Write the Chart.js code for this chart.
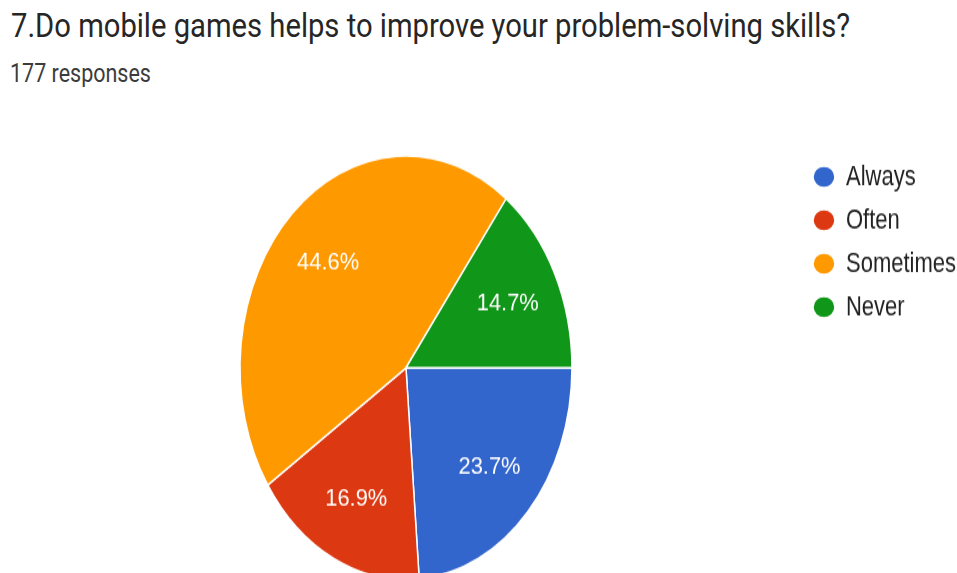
<!DOCTYPE html>
<html>
<head>
<meta charset="utf-8">
<script src="https://cdn.jsdelivr.net/npm/chart.js@4.4.0/dist/chart.umd.min.js"></script>
<style>
  html, body { margin: 0; padding: 0; background: #fff; overflow: hidden; }
  body { width: 957px; height: 573px; position: relative; }
  .title {
    position: absolute; left: 11px; top: 9.7px;
    font: 29.2px/29.2px Roboto, sans-serif; color: #262626; white-space: nowrap;
    transform: scaleY(1.14); transform-origin: 0 0;
  }
  .subtitle {
    position: absolute; left: 10px; top: 60.7px;
    font: 21.5px/21.5px Roboto, sans-serif; color: #3c3c3c; white-space: nowrap;
    transform: scaleY(1.16); transform-origin: 0 0;
  }
  #chartWrap { position: absolute; left: 0; top: 0; width: 957px; height: 470px; transform: scaleY(1.277); transform-origin: 0 0; }
</style>
</head>
<body>
<div class="title">7.Do mobile games helps to improve your problem-solving skills?</div>
<div class="subtitle">177 responses</div>
<div id="chartWrap"><canvas id="pieChart" width="957" height="470"></canvas></div>
<script>
const answers = ["Always", "Often", "Sometimes", "Never"];
const responseCounts = [42, 30, 79, 26];
const sliceColors = ["#3366cc", "#dc3912", "#ff9900", "#109618"];

const totalResponses = responseCounts.reduce((a, b) => a + b, 0);

// percentage text inside each slice
const sliceLabels = {
  id: "sliceLabels",
  afterDatasetsDraw(chart) {
    const { ctx } = chart;
    const meta = chart.getDatasetMeta(0);
    meta.data.forEach((arc, i) => {
      const { x, y, startAngle, endAngle, outerRadius } = arc.getProps(
        ["x", "y", "startAngle", "endAngle", "outerRadius"],
        true
      );
      const mid = (startAngle + endAngle) / 2;
      const r = outerRadius * 0.685;
      const pct = ((responseCounts[i] / totalResponses) * 100).toFixed(1) + "%";
      ctx.save();
      ctx.translate(x + Math.cos(mid) * r, y + Math.sin(mid) * r + 1);
      ctx.scale(1.25, 1);
      ctx.font = "17.5px 'Liberation Sans', Arial, sans-serif";
      ctx.fillStyle = "#ffffff";
      ctx.textAlign = "center";
      ctx.textBaseline = "middle";
      ctx.fillText(pct, 0, 0);
      ctx.restore();
    });
  },
};

const ctx = document.getElementById("pieChart").getContext("2d");

new Chart(ctx, {
  type: "pie",
  data: {
    labels: answers,
    datasets: [
      {
        data: responseCounts,
        backgroundColor: sliceColors,
        borderColor: "#ffffff",
        borderWidth: 1.5,
        radius: 166,
      },
    ],
  },
  options: {
    responsive: false,
    animation: false,
    rotation: 90,
    layout: { padding: { top: 115.5, bottom: 9.5, left: 11, right: -9 } },
    plugins: {
      legend: {
        position: "right",
        align: "start",
        labels: {
          usePointStyle: true,
          pointStyle: "circle",
          boxHeight: 12,
          pointStyleWidth: 22,
          padding: 12,
          color: "#222222",
          font: { family: "'Liberation Sans', Arial, sans-serif", size: 22 },
        },
      },
      tooltip: { enabled: false },
    },
  },
  plugins: [sliceLabels],
});
</script>
</body>
</html>
